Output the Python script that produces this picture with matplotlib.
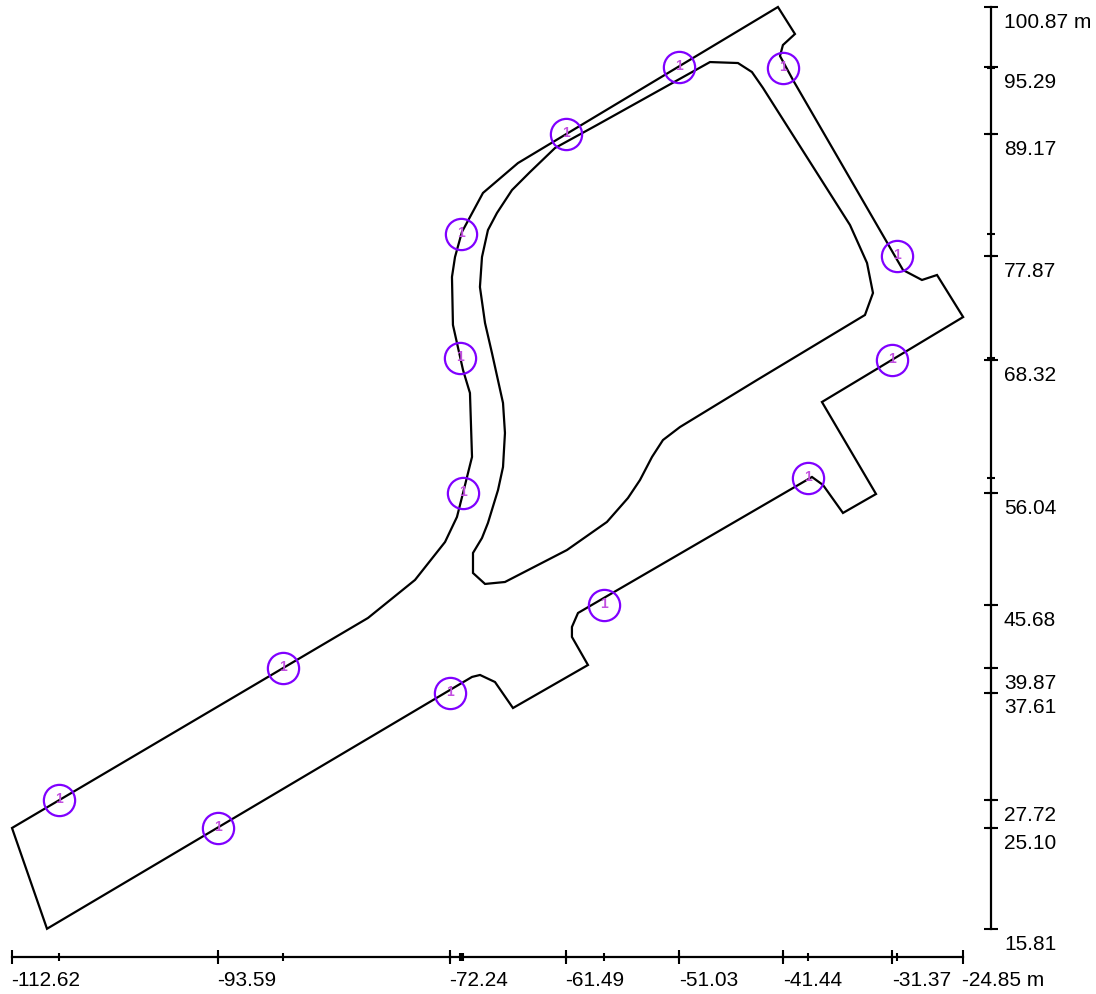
import matplotlib
matplotlib.use("Agg")
import matplotlib.pyplot as plt

plt.rcParams['font.family'] = ['Liberation Sans', 'DejaVu Sans']

# outer boundary of the site (m)
outer_x = [-112.62, -79.77, -75.43, -72.66, -71.56, -71.00, -70.17, -70.36, -71.00,
           -71.93, -72.02, -71.74, -71.10, -69.16, -65.93, -41.94, -40.37, -41.48,
           -41.75, -40.55, -30.40, -28.65, -27.26, -24.85, -37.88, -32.89, -35.94,
           -37.78, -38.80, -60.39, -60.95, -60.95, -59.47, -66.39, -68.05, -69.43,
           -70.17, -109.39]
outer_y = [25.11, 44.49, 48.00, 51.50, 53.81, 56.02, 59.35, 65.25, 67.37,
           71.53, 75.96, 77.80, 80.11, 83.71, 86.47, 100.87, 98.38, 97.36,
           96.35, 94.13, 76.60, 75.68, 76.14, 72.26, 64.42, 55.93, 54.18,
           56.76, 57.50, 44.95, 43.66, 42.74, 40.15, 36.18, 38.58, 39.23,
           39.05, 15.81]

# inner island (m)
inner_x = [-48.21, -45.63, -44.34, -43.32, -35.29, -33.72, -33.17, -33.91, -43.87,
           -50.98, -52.55, -53.56, -54.67, -55.78, -57.72, -61.41, -67.13, -68.97,
           -70.08, -70.08, -69.25, -68.70, -67.77, -67.31, -67.13, -67.31, -68.33,
           -68.97, -69.44, -69.25, -68.70, -67.87, -66.48, -64.82, -62.51, -58.64]
inner_y = [95.79, 95.70, 94.87, 93.40, 80.75, 77.25, 74.48, 72.45, 66.45,
           62.11, 60.91, 59.35, 57.22, 55.56, 53.35, 50.76, 47.81, 47.63,
           48.64, 50.49, 51.87, 53.26, 56.30, 58.42, 61.56, 64.33, 68.94,
           71.71, 75.03, 77.80, 80.29, 81.86, 83.98, 85.64, 87.86, 89.98]

# marked points
pt_x = [-108.28, -93.59, -87.61, -72.24, -71.19, -71.28, -71.00, -61.49,
        -57.99, -51.03, -41.44, -39.17, -31.37, -30.95]
pt_y = [27.72, 25.10, 39.87, 37.61, 79.92, 68.45, 56.04, 89.17,
        45.68, 95.29, 95.20, 57.41, 68.32, 77.87]
pt_label = ['1'] * len(pt_x)

# labelled ticks
xticks = [-112.62, -93.59, -72.24, -61.49, -51.03, -41.44, -31.37, -24.85]
xlabels = ['-112.62', '-93.59', '-72.24', '-61.49', '-51.03', '-41.44', '-31.37', '-24.85 m']
yticks = [100.87, 95.29, 89.17, 77.87, 68.32, 56.04, 45.68, 39.87, 37.61, 27.72, 25.10, 15.81]
ylabels = ['100.87 m', '95.29', '89.17', '77.87', '68.32', '56.04', '45.68', '39.87',
           '37.61', '27.72', '25.10', '15.81']

x_axis_at = 13.25    # y where the scale bar along x sits
y_axis_at = -22.30   # x where the scale bar along y sits

fig = plt.figure(figsize=(10.96, 9.94), dpi=100)
ax = fig.add_axes([0, 0, 1, 1])
ax.set_xlim(-113.727, -12.59)
ax.set_ylim(9.79, 101.516)
ax.axis('off')

ax.fill(outer_x, outer_y, facecolor='none', edgecolor='black', linewidth=1.6)
ax.fill(inner_x, inner_y, facecolor='none', edgecolor='black', linewidth=1.6)

purple = '#8000ff'
ax.plot(pt_x, pt_y, linestyle='none', marker='o', markersize=22.5,
        markerfacecolor='none', markeredgecolor=purple, markeredgewidth=1.6, zorder=3)
for x, y, s in zip(pt_x, pt_y, pt_label):
    ax.annotate(s, (x, y), xytext=(0, 0.7), textcoords='offset points',
                color='#c24fe0', fontsize=10, fontweight='bold',
                ha='center', va='center', zorder=4)

# x scale bar
ax.plot([xticks[0], xticks[-1]], [x_axis_at, x_axis_at], color='black', linewidth=1.6)
ax.plot(pt_x, [x_axis_at] * len(pt_x), linestyle='none', marker='|', markersize=5.5,
        color='black', markeredgewidth=1.5)
ax.plot(xticks, [x_axis_at] * len(xticks), linestyle='none', marker='|', markersize=10,
        color='black', markeredgewidth=1.5)
for v, s in zip(xticks, xlabels):
    ax.annotate(s, (v, x_axis_at), xytext=(-0.5, -10.5), textcoords='offset points',
                ha='left', va='top', fontsize=15)

# y scale bar
ax.plot([y_axis_at, y_axis_at], [yticks[-1], yticks[0]], color='black', linewidth=1.6)
ax.plot([y_axis_at] * len(pt_y), pt_y, linestyle='none', marker='_', markersize=5.5,
        color='black', markeredgewidth=1.5)
ax.plot([y_axis_at] * len(yticks), yticks, linestyle='none', marker='_', markersize=10,
        color='black', markeredgewidth=1.5)
for v, s in zip(yticks, ylabels):
    ax.annotate(s, (y_axis_at, v), xytext=(9.5, -4.3), textcoords='offset points',
                ha='left', va='top', fontsize=15)

fig.savefig('out.png', dpi=100)
